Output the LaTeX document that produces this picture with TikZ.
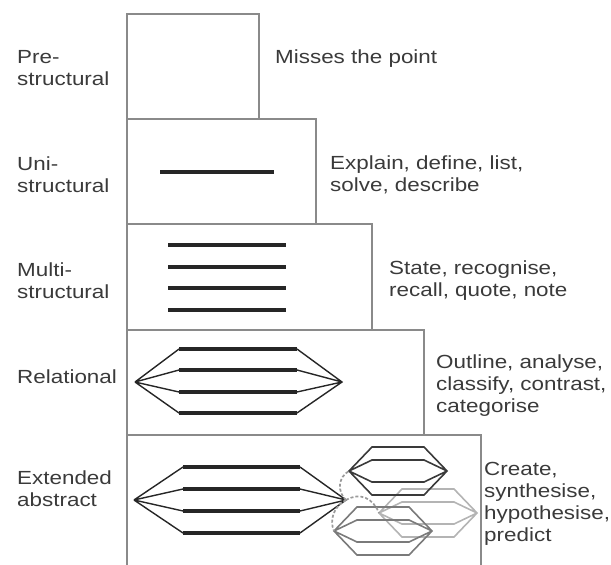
\documentclass[tikz,border=0pt]{standalone}
\usepackage{fontspec}
\setmainfont{Liberation Sans}[FakeStretch=1.18]
\definecolor{boxc}{HTML}{8A8A8A}
\definecolor{inkc}{HTML}{262626}
\definecolor{txtc}{HTML}{3A3A3A}
\definecolor{hexA}{HTML}{3A3A3A}
\definecolor{hexB}{HTML}{7A7A7A}
\definecolor{hexC}{HTML}{B4B4B4}
\definecolor{dotc}{HTML}{9A9A9A}
\tikzset{
  lbl/.style={inner sep=0pt, anchor=base west, align=left, text=txtc,
    font=\fontsize{19}{22}\selectfont},
  levelbox/.style={draw=boxc, line width=1.3pt},
  barline/.style={draw=inkc, line width=3.6pt},
  thinline/.style={draw=inkc, line width=1.4pt, line join=miter},
  linkcurve/.style={draw=dotc, line width=1.7pt, densely dashed},
  pics/minihex/.style={code={
    \draw[line width=1.6pt, draw=#1, line join=miter]
      (-49,0) -- (-26,-24) -- (26,-24) -- (49,0) -- (26,24) -- (-26,24) -- cycle
      (-49,0) -- (-26,-11) -- (26,-11) -- (49,0)
      (-49,0) -- (-26,11) -- (26,11) -- (49,0);
  }}
}
\begin{document}
\begin{tikzpicture}[x=1pt,y=-1pt]
\useasboundingbox (0,0) rectangle (611,565);
% level boxes
\draw[levelbox] (127,14) rectangle (259,119);
\draw[levelbox] (127,119) rectangle (316,224);
\draw[levelbox] (127,224) rectangle (372,330);
\draw[levelbox] (127,330) rectangle (424,435);
\draw[levelbox] (127,566) -- (127,435) -- (481,435) -- (481,566);
% uni-structural
\draw[barline] (160,172) -- (274,172);
% multi-structural
\foreach \yy in {245,267,288,310} \draw[barline] (168,\yy) -- (286,\yy);
% relational
\coordinate (rl) at (135,382);
\coordinate (rr) at (342,382);
\draw[thinline] (rl) -- (179,349) (297,349) -- (rr) -- (297,413) (179,413) -- (rl)
  (rl) -- (179,370) (297,370) -- (rr) (rl) -- (179,392) (297,392) -- (rr);
\foreach \yy in {349,370,392,413} \draw[barline] (179,\yy) -- (297,\yy);
% extended abstract
\coordinate (el) at (134,500);
\coordinate (er) at (346,500);
\draw[thinline] (el) -- (183,467) (300,467) -- (er) -- (300,533) (183,533) -- (el)
  (el) -- (183,489) (300,489) -- (er) (el) -- (183,511) (300,511) -- (er);
\foreach \yy in {467,489,511,533} \draw[barline] (183,\yy) -- (300,\yy);
% small hexagons
\pic at (428,513) {minihex=hexC};
\pic at (383,531) {minihex=hexB};
\pic at (398,471) {minihex=hexA};
\coordinate (al) at (349,471);
\coordinate (bl) at (334,531);
\coordinate (cl) at (379,513);
\draw[linkcurve] (er) .. controls (337,492) and (338,477) .. (al);
\draw[linkcurve] (er) .. controls (334,506) and (329,520) .. (bl);
\draw[linkcurve] (er) .. controls (360,492) and (373,498) .. (cl);
% left labels
\node[lbl] (lpre) at (17,85) {Pre-\\structural};
\node[lbl] (luni) at (17,192) {Uni-\\structural};
\node[lbl] (lmulti) at (17,298) {Multi-\\structural};
\node[lbl] (lrel) at (17,383) {Relational};
\node[lbl] (lext) at (17,506) {Extended\\abstract};
% right labels
\node[lbl] (rpre) at (275,63) {Misses the point};
\node[lbl] (runi) at (330,191) {Explain, define, list,\\solve, describe};
\node[lbl] (rmulti) at (389,296) {State, recognise,\\recall, quote, note};
\node[lbl] (rrel) at (436,412) {Outline, analyse,\\classify, contrast,\\categorise};
\node[lbl] (rext) at (484,541) {Create,\\synthesise,\\hypothesise,\\predict};
\end{tikzpicture}
\end{document}
